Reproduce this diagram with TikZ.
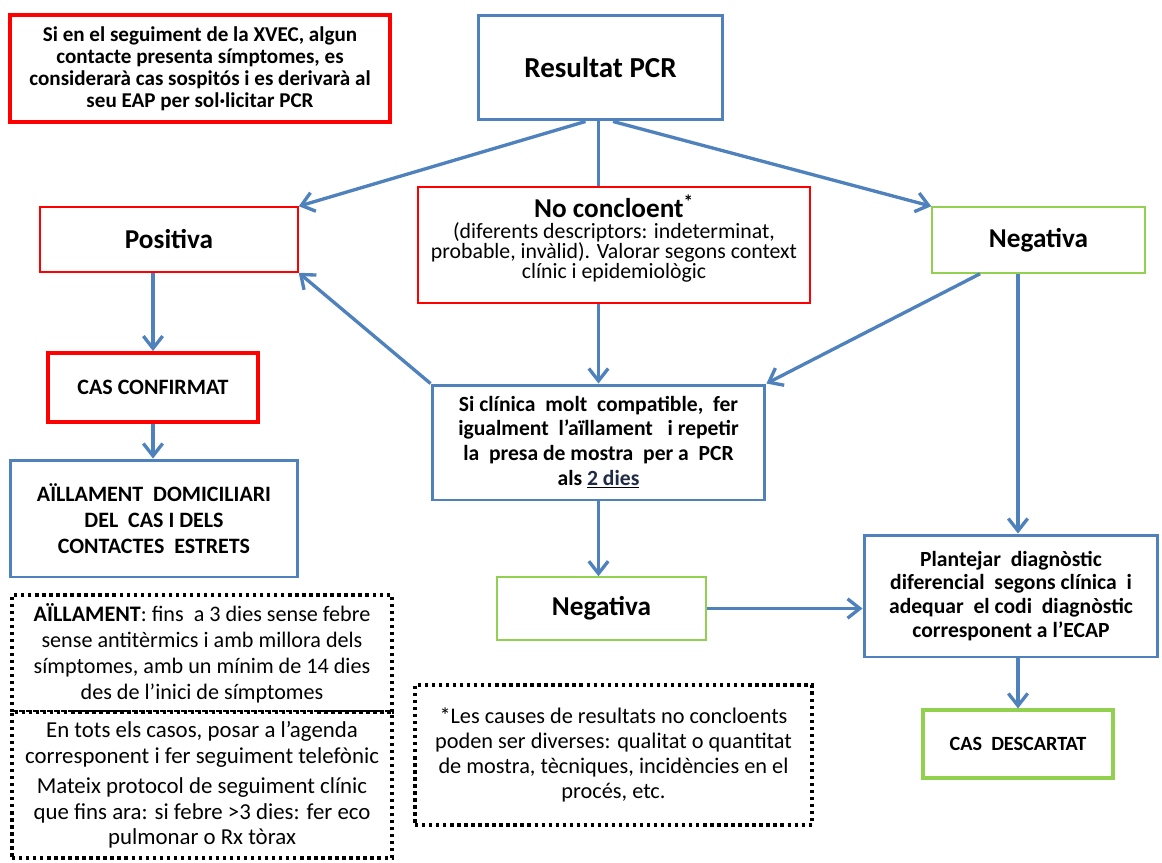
\documentclass[tikz,border=0pt]{standalone}
\usepackage{fontspec}
\setmainfont{Carlito}
\usetikzlibrary{positioning,arrows.meta,calc}

\definecolor{blau}{HTML}{4F81BD}
\definecolor{vermell}{HTML}{FF0000}
\definecolor{verd}{HTML}{92D050}
\definecolor{fosc}{HTML}{1F2A44}

\begin{document}
\begin{tikzpicture}[
    x=0.02cm, y=-0.02cm,
    caixa/.style={rectangle, align=center, inner sep=2pt, fill=white},
    blue/.style={caixa, draw=blau, line width=1.7pt},
    redthin/.style={caixa, draw=vermell, line width=0.9pt},
    redthick/.style={caixa, draw=vermell, line width=2.2pt},
    greenthin/.style={caixa, draw=verd, line width=0.9pt},
    greenthick/.style={caixa, draw=verd, line width=1.8pt},
    nota/.style={caixa, draw=black, line width=1.9pt, dash pattern=on 1.9pt off 2.1pt},
    fletxa/.style={draw=blau, line width=1.9pt, -{Straight Barb[length=7pt,width=11pt,line width=1.9pt]}},
    linia/.style={draw=blau, line width=1.9pt},
    petit/.style={font=\fontsize{12.3}{14}\selectfont\bfseries},
    titol/.style={font=\fontsize{15.5}{18}\selectfont\bfseries}
]
    \useasboundingbox (0,0) rectangle (1162,862);

    % caixes principals
    \node[redthick, minimum width=7.6cm, minimum height=2.14cm,
          font=\fontsize{12}{12.6}\selectfont\bfseries] (avis) at (200,68.5) {
        Si en el seguiment de la XVEC, algun\\
        contacte presenta símptomes, es\\
        considerarà cas sospitós i es derivarà al\\
        seu EAP per sol·licitar PCR};
    \node[blue, minimum width=4.9cm, minimum height=2.1cm,
          font=\fontsize{16.5}{20}\selectfont\bfseries] (resultat) at (600.5,67.5) {Resultat PCR};

    \node[redthin, titol, minimum width=5.16cm, minimum height=1.3cm] (positiva) at (169,239.5) {Positiva};
    \node[redthin, minimum width=7.84cm, minimum height=2.32cm,
          font=\fontsize{12.4}{11.6}\selectfont] (noconc) at (614,245) {
        {\fontsize{15.5}{17}\selectfont\bfseries No concloent\textsuperscript{*}}\\
        (diferents descriptors: indeterminat,\\
        probable, invàlid). Valorar segons context\\
        clínic i epidemiològic\rule[-0.32cm]{0pt}{0pt}};
    \node[greenthin, titol, minimum width=4.26cm, minimum height=1.32cm] (negativa) at (1038.5,240) {Negativa};

    \node[redthick, minimum width=4.2cm, minimum height=1.38cm,
          font=\fontsize{12.5}{14}\selectfont\bfseries] (casconf) at (153,387.5) {CAS CONFIRMAT};
    \node[blue, minimum width=5.76cm, minimum height=2.34cm,
          font=\fontsize{12.5}{15}\selectfont\bfseries] (aillam) at (154,518.5) {
        AÏLLAMENT~~DOMICILIARI\\
        DEL~~CAS I DELS\\
        CONTACTES~~ESTRETS};
    \node[blue, petit, minimum width=6.66cm, minimum height=2.3cm] (siclin) at (598.5,442.5) {
        Si clínica~ molt~ compatible,~ fer\\
        igualment~ l’aïllament~~ i repetir\\
        la~ presa de mostra~ per a~ PCR\\
        als \underline{\textcolor{fosc}{2 dies}}};
    \node[greenthin, titol, minimum width=4.18cm, minimum height=1.26cm] (negativab) at (601.5,608.5) {Negativa};
    \node[blue, minimum width=5.88cm, minimum height=2.44cm,
          font=\fontsize{12.3}{13.6}\selectfont\bfseries] (plantejar) at (1011,596) {
        Plantejar~ diagnòstic\\
        diferencial~ segons clínica~ i\\
        adequar~ el codi~ diagnòstic\\
        corresponent a l’ECAP};
    \node[greenthick, minimum width=3.8cm, minimum height=1.36cm,
          font=\fontsize{11.5}{13}\selectfont\bfseries] (casdesc) at (1018,744) {CAS~ DESCARTAT};

    % notes puntejades
    \node[nota, minimum width=7.6cm, minimum height=2.34cm,
          font=\fontsize{12.6}{14.7}\selectfont] (nota1) at (202,653.5) {
        \textbf{AÏLLAMENT}: fins~ a 3 dies sense febre\\
        sense antitèrmics i amb millora dels\\
        símptomes, amb un mínim de 14 dies\\
        des de l’inici de símptomes};
    \node[nota, minimum width=7.6cm, minimum height=2.92cm,
          font=\fontsize{13}{14.5}\selectfont] (nota2) at (202,785) {
        En tots els casos, posar a l’agenda\\
        corresponent i fer seguiment telefònic\\[3pt]
        Mateix protocol de seguiment clínic\\
        que fins ara: si febre >3 dies: fer eco\\
        pulmonar o Rx tòrax};
    \node[nota, minimum width=7.94cm, minimum height=2.8cm,
          font=\fontsize{12.7}{14.3}\selectfont] (nota3) at (613.5,755) {
        *Les causes de resultats no concloents\\
        poden ser diverses: qualitat o quantitat\\
        de mostra, tècniques, incidències en el\\
        procés, etc.};

    % connectors
    \draw[fletxa] ([xshift=-0.3cm]resultat.south) -- (positiva.north east);
    \draw[linia] (resultat.south -| siclin.north) -- (siclin.north |- noconc.north);
    \draw[fletxa] ([xshift=0.25cm]resultat.south) -- (negativa.north west);
    \draw[fletxa] (casconf.north |- positiva.south) -- (casconf.north);
    \draw[fletxa] (casconf.south) -- (casconf.south |- aillam.north);
    \draw[fletxa] (siclin.north |- noconc.south) -- (siclin.north);
    \draw[fletxa] (siclin.north west) -- (positiva.south east);
    \draw[fletxa] ([xshift=-1.17cm]negativa.south) -- (siclin.north east);
    \draw[fletxa] (casdesc.north |- negativa.south) -- (casdesc.north |- plantejar.north);
    \draw[fletxa] (siclin.south) -- (siclin.south |- negativab.north);
    \draw[fletxa] (negativab.east) -- (negativab.east -| plantejar.west);
    \draw[fletxa] (casdesc.north |- plantejar.south) -- (casdesc.north);
\end{tikzpicture}
\end{document}
